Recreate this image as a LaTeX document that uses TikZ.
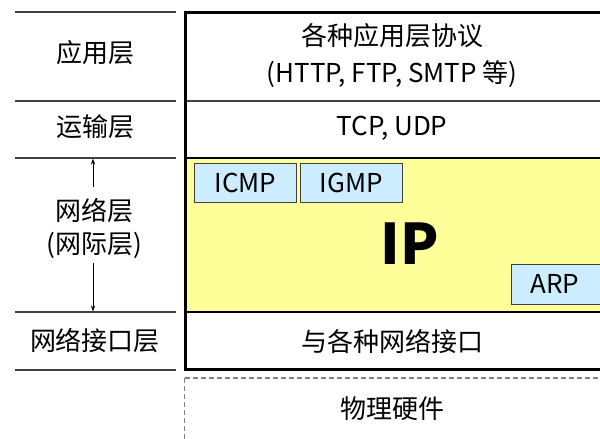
\documentclass[tikz,border=0pt]{standalone}
\usepackage{fontspec}
\setmainfont{Noto Sans CJK SC}
\usetikzlibrary{arrows.meta}
\definecolor{ipyellow}{HTML}{FFFF99}
\definecolor{protoblue}{HTML}{CCECFF}
\definecolor{linegray}{HTML}{404040}
\tikzset{
  lbl/.style={inner sep=0pt, font=\fontsize{26}{33}\selectfont, align=center},
  proto/.style={draw=linegray, line width=1pt, fill=protoblue, inner sep=0pt, font=\fontsize{26}{30}\selectfont},
  sepline/.style={draw=linegray, line width=1.3pt},
  thinarrow/.style={draw=black, line width=0.8pt, -{Stealth[length=6pt,width=4pt]}},
  dashline/.style={draw=gray, line width=1.3pt, dash pattern=on 5pt off 3pt}
}
\begin{document}
\begin{tikzpicture}[x=1pt,y=-1pt]
\useasboundingbox (0,0) rectangle (600,439);
\clip (0,0) rectangle (600,439);
% left column lines
\draw[sepline] (15,12) -- (176,12);
\draw[sepline] (15,101) -- (176,101);
\draw[sepline] (15,158) -- (176,158);
\draw[sepline] (15,312) -- (176,312);
\draw[sepline] (15,370) -- (176,370);
% IP area
\fill[ipyellow] (186,158) rectangle (604,312);
% inner dividers
\draw[sepline] (186,101) -- (604,101);
\draw[draw=black, line width=1.3pt] (186,158) -- (604,158);
\draw[draw=black, line width=1.3pt] (186,312) -- (604,312);
% main box
\draw[line width=3pt] (185,12) rectangle (604,369.5);
% dashed physical hardware
\draw[dashline] (184.5,378) -- (604,378);
\draw[dashline] (184.5,378) -- (184.5,445);
% left labels
\node[lbl] (app) at (95,53) {应用层};
\node[lbl] (trans) at (95,127) {运输层};
\node[lbl] (net) at (94,228) {网络层\\(网际层)};
\node[lbl] (nif) at (95,341) {网络接口层};
\coordinate (upA) at (93,187);
\coordinate (upB) at (93,158.5);
\coordinate (dnA) at (93,263);
\coordinate (dnB) at (93,311.5);
\draw[thinarrow] (upA) -- (upB);
\draw[thinarrow] (dnA) -- (dnB);
% right labels
\node[lbl, font=\fontsize{26}{37}\selectfont] (appr) at (392,56) {各种应用层协议\\(HTTP, FTP, SMTP 等)};
\node[lbl] (transr) at (392,128) {TCP, UDP};
\node[lbl] (nifr) at (392,341) {与各种网络接口};
\node[lbl] (phy) at (392,409) {物理硬件};
% IP
\node[inner sep=0pt, font=\fontsize{56}{60}\selectfont\bfseries] (ip) at (410,244) {IP};
\node[proto, minimum width=102pt, minimum height=39pt] (icmp) at (245.5,183) {ICMP};
\node[proto, minimum width=102pt, minimum height=39pt] (igmp) at (351.5,183) {IGMP};
\node[proto, minimum width=100pt, minimum height=40pt, anchor=north west] (arp) at (510.5,263.5) {};
\node[inner sep=0pt, font=\fontsize{26}{30}\selectfont] (arpt) at (555,283.5) {ARP};
\end{tikzpicture}
\end{document}
